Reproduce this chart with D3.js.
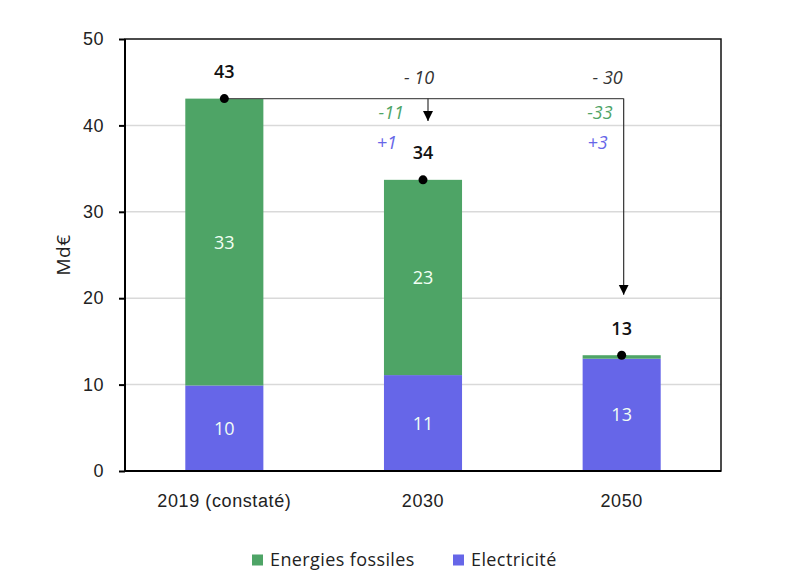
<!DOCTYPE html>
<html>
<head>
<meta charset="utf-8">
<script src="https://cdn.jsdelivr.net/npm/d3@7"></script>
<style>
  body { margin: 0; background: #fff; }
  svg { font-family: "Open Sans", "DejaVu Sans", sans-serif; }
</style>
</head>
<body>
<svg id="chart" width="788" height="582"></svg>
<script>
// data
const categories = ["2019 (constaté)", "2030", "2050"];
const electricite = [9.9, 11.1, 13.0];
const fossiles = [33.2, 22.6, 0.4];
const yTicks = [0, 10, 20, 30, 40, 50];

// annotations : écart total, écart fossiles, écart électricité, niveau de la pointe de flèche
const deltaTotal = [null, "- 10", "- 30"];
const deltaFossiles = [null, "-11", "-33"];
const deltaElec = [null, "+1", "+3"];
const arrowEnd = [null, 40.5, 20.4];

const green = "#4ea466", blue = "#6666e8";
const fs = "18px";

const svg = d3.select("#chart");
const margin = { top: 39, right: 67, bottom: 111, left: 125 };
const width = 788 - margin.left - margin.right,
  height = 582 - margin.top - margin.bottom;

const g = svg.append("g")
  .attr("transform", `translate(${margin.left},${margin.top})`);

const x = d3.scaleBand()
  .domain(categories)
  .range([0, width])
  .paddingInner(0.607)
  .paddingOuter(0.3035);

const y = d3.scaleLinear()
  .domain([0, 50])
  .range([height, 0]);

// grid
g.selectAll("line.grid")
  .data(yTicks.filter(d => d > 0 && d < 50))
  .enter()
  .append("line")
  .attr("class", "grid")
  .attr("x1", 0)
  .attr("x2", width)
  .attr("y1", d => y(d))
  .attr("y2", d => y(d))
  .attr("stroke", "#d9d9d9")
  .attr("stroke-width", 1.5);

// stacked bars
const rows = categories.map((c, i) => ({ cat: c, elec: electricite[i], foss: fossiles[i] }));
const stack = d3.stack().keys(["elec", "foss"]);
const series = stack(rows);
const color = d3.scaleOrdinal().domain(["elec", "foss"]).range([blue, green]);

const layers = g.selectAll("g.layer")
  .data(series)
  .enter()
  .append("g")
  .attr("class", "layer")
  .attr("fill", d => color(d.key));

layers.selectAll("rect")
  .data(d => d)
  .enter()
  .append("rect")
  .attr("x", d => x(d.data.cat))
  .attr("width", x.bandwidth())
  .attr("y", d => y(d[1]))
  .attr("height", d => y(d[0]) - y(d[1]));

// segment labels
layers.selectAll("text")
  .data(d => d.filter(s => s[1] - s[0] > 3))
  .enter()
  .append("text")
  .attr("x", d => x(d.data.cat) + x.bandwidth() / 2)
  .attr("y", d => y((d[0] + d[1]) / 2))
  .attr("dy", "0.36em")
  .attr("text-anchor", "middle")
  .attr("fill", "#f2fff4")
  .style("font-size", fs)
  .text(d => Math.round(d[1] - d[0]));

// axes frame
const yAxis = g.append("g")
  .call(d3.axisLeft(y).tickValues(yTicks).tickSize(6).tickPadding(15));
yAxis.select(".domain").remove();
yAxis.selectAll(".tick line").attr("stroke", "#000").attr("stroke-width", 2);
yAxis.selectAll(".tick text").attr("fill", "#222").style("font-size", fs)
  .style("letter-spacing", "0.5px");

g.append("rect")
  .attr("width", width)
  .attr("height", height)
  .attr("fill", "none")
  .attr("stroke", "#111")
  .attr("stroke-width", 1.5);
g.append("line")
  .attr("x1", 0).attr("x2", 0).attr("y1", 0).attr("y2", height)
  .attr("stroke", "#000").attr("stroke-width", 2);
g.append("line")
  .attr("x1", 0).attr("x2", width).attr("y1", height).attr("y2", height)
  .attr("stroke", "#000").attr("stroke-width", 2);

const xAxis = g.append("g")
  .attr("transform", `translate(0,${height})`)
  .call(d3.axisBottom(x).tickSize(0).tickPadding(23));
xAxis.select(".domain").remove();
xAxis.selectAll(".tick text").attr("fill", "#222").style("font-size", fs)
  .style("letter-spacing", "0.6px");

// y label
svg.append("text")
  .attr("transform", `translate(63,255) rotate(-90)`)
  .attr("text-anchor", "middle")
  .attr("dy", "0.36em")
  .attr("fill", "#222")
  .style("font-size", "19px")
  .style("letter-spacing", "0.5px")
  .text("Md€");

// totals
const totals = rows.map(r => ({ cat: r.cat, v: r.elec + r.foss }));
const cx = c => x(c) + x.bandwidth() / 2;

// arrow marker
svg.append("defs").append("marker")
  .attr("id", "arrow")
  .attr("viewBox", "0 0 10 10")
  .attr("refX", 10).attr("refY", 5)
  .attr("markerWidth", 10).attr("markerHeight", 11)
  .attr("markerUnits", "userSpaceOnUse")
  .attr("orient", "auto")
  .append("path")
  .attr("d", "M0,0 L10,5 L0,10 Z")
  .attr("fill", "#000");

const x0 = cx(categories[0]);
const arrowX = [null, cx(categories[1]) + 5, cx(categories[2]) + 2];
g.append("line")
  .attr("x1", x0).attr("x2", arrowX[2])
  .attr("y1", y(totals[0].v)).attr("y2", y(totals[0].v))
  .attr("stroke", "#555").attr("stroke-width", 1.2);

[1, 2].forEach(i => {
  g.append("line")
    .attr("x1", arrowX[i]).attr("x2", arrowX[i])
    .attr("y1", y(totals[0].v)).attr("y2", y(arrowEnd[i]))
    .attr("stroke", "#333").attr("stroke-width", 1.2)
    .attr("marker-end", "url(#arrow)");
});

g.selectAll("circle.dot")
  .data(totals)
  .enter()
  .append("circle")
  .attr("class", "dot")
  .attr("cx", d => cx(d.cat))
  .attr("cy", d => y(d.v))
  .attr("r", 4.5)
  .attr("fill", "#000");

g.selectAll("text.total")
  .data(totals)
  .enter()
  .append("text")
  .attr("class", "total")
  .attr("x", d => cx(d.cat))
  .attr("y", d => y(d.v) - 27)
  .attr("dy", "0.36em")
  .attr("text-anchor", "middle")
  .attr("fill", "#111")
  .style("font-size", fs)
  .style("font-weight", "600")
  .text(d => Math.round(d.v));

// delta annotations (décalages par rapport à la flèche)
const off = { 1: { tot: -9, foss: -24, elec: -31 }, 2: { tot: -16, foss: -11, elec: -16 } };
[1, 2].forEach(i => {
  const ax = arrowX[i];
  const base = y(totals[0].v);
  g.append("text")
    .attr("x", ax + off[i].tot).attr("y", base - 21).attr("dy", "0.36em")
    .attr("text-anchor", "middle")
    .attr("fill", "#333").style("font-size", fs).style("font-style", "italic")
    .text(deltaTotal[i]);
  g.append("text")
    .attr("x", ax + off[i].foss).attr("y", base + 14).attr("dy", "0.36em")
    .attr("text-anchor", "end")
    .attr("fill", green).style("font-size", fs).style("font-style", "italic")
    .text(deltaFossiles[i]);
  g.append("text")
    .attr("x", ax + off[i].elec).attr("y", base + 44).attr("dy", "0.36em")
    .attr("text-anchor", "end")
    .attr("fill", blue).style("font-size", fs).style("font-style", "italic")
    .text(deltaElec[i]);
});

// legend
const legendItems = [
  { label: "Energies fossiles", color: green, x: 252 },
  { label: "Electricité", color: blue, x: 453 }
];
const legend = svg.selectAll("g.legend")
  .data(legendItems)
  .enter()
  .append("g")
  .attr("class", "legend")
  .attr("transform", d => `translate(${d.x},560)`);
legend.append("rect")
  .attr("x", 0).attr("y", -5.5)
  .attr("width", 11).attr("height", 11)
  .attr("fill", d => d.color);
legend.append("text")
  .attr("x", 18)
  .attr("dy", "0.36em")
  .attr("fill", "#222")
  .style("font-size", fs)
  .style("letter-spacing", "0.4px")
  .text(d => d.label);
</script>
</body>
</html>
